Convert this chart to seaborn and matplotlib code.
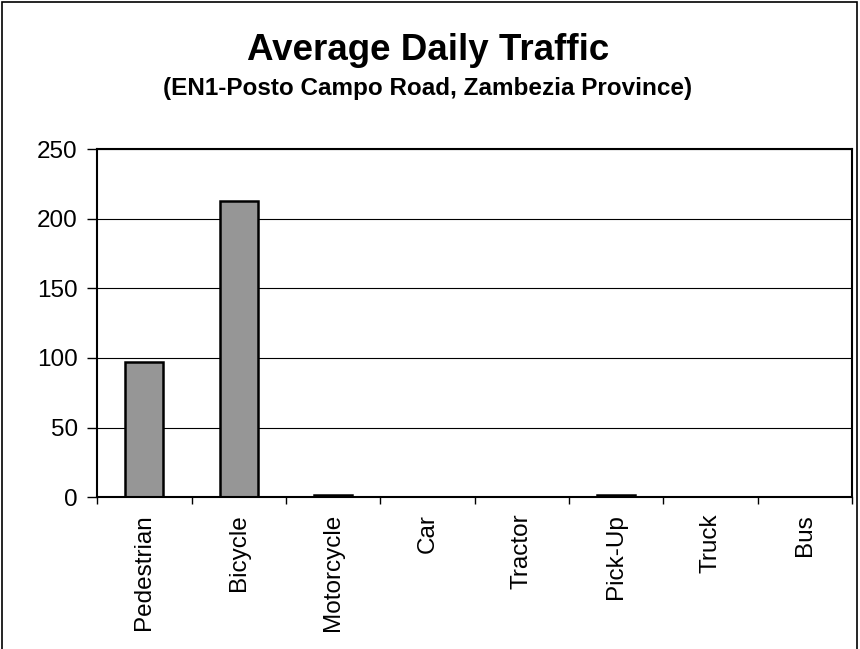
import numpy as np
import pandas as pd
import seaborn as sns
import matplotlib.pyplot as plt
from matplotlib.patches import Rectangle

# Vehicle classes and average daily counts
categories = ['Pedestrian', 'Bicycle', 'Motorcycle', 'Car', 'Tractor', 'Pick-Up', 'Truck', 'Bus']
counts = [97, 213, 1.5, 0, 0, 1.5, 0, 0]
yticks = [0, 50, 100, 150, 200, 250]

df = pd.DataFrame({'category': categories, 'count': counts})

sns.set_style('white')
plt.rcParams['font.family'] = ['Liberation Sans', 'DejaVu Sans']
plt.rcParams['text.color'] = 'black'
plt.rcParams['xtick.color'] = 'black'
plt.rcParams['ytick.color'] = 'black'

fig = plt.figure(figsize=(8.6, 6.49), dpi=100)
ax = fig.add_axes([0.113, 0.234, 0.878, 0.536])

sns.barplot(data=df, x='category', y='count', color='#969696', edgecolor='black',
            linewidth=1.8, width=0.4, saturation=1, ax=ax)

ax.set_ylim(0, 250)
ax.set_xlim(-0.5, len(categories) - 0.5)
ax.set_yticks(yticks)
ax.set_yticklabels([str(v) for v in yticks], fontsize=17.5)
ax.yaxis.grid(True, color='black', linewidth=0.8)
ax.set_axisbelow(True)
ax.tick_params(axis='y', length=7, width=1, direction='out', left=True, pad=7)

# labels centred under bars, tick marks between categories
ax.set_xticks(range(len(categories)))
ax.set_xticklabels(categories, rotation=90, fontsize=17.5)
ax.tick_params(axis='x', which='major', length=0, pad=12)
ax.set_xticks(np.arange(-0.5, len(categories)), minor=True)
ax.tick_params(axis='x', which='minor', length=5, width=1, direction='out', bottom=True)

for s in ax.spines.values():
    s.set_visible(True)
    s.set_color('black')
    s.set_linewidth(1.5)

ax.set_xlabel('')
ax.set_ylabel('')

fig.text(0.498, 0.922, 'Average Daily Traffic', ha='center', va='center',
         fontsize=26.5, fontweight='bold')
fig.text(0.497, 0.864, '(EN1-Posto Campo Road, Zambezia Province)', ha='center', va='center',
         fontsize=17.5, fontweight='bold')

# chart frame, open at the bottom like the original
fig.patches.append(Rectangle((0.002, -0.05), 0.994, 1.047, transform=fig.transFigure,
                             fill=False, edgecolor='black', linewidth=1.2))

plt.savefig('out.png', dpi=100)
